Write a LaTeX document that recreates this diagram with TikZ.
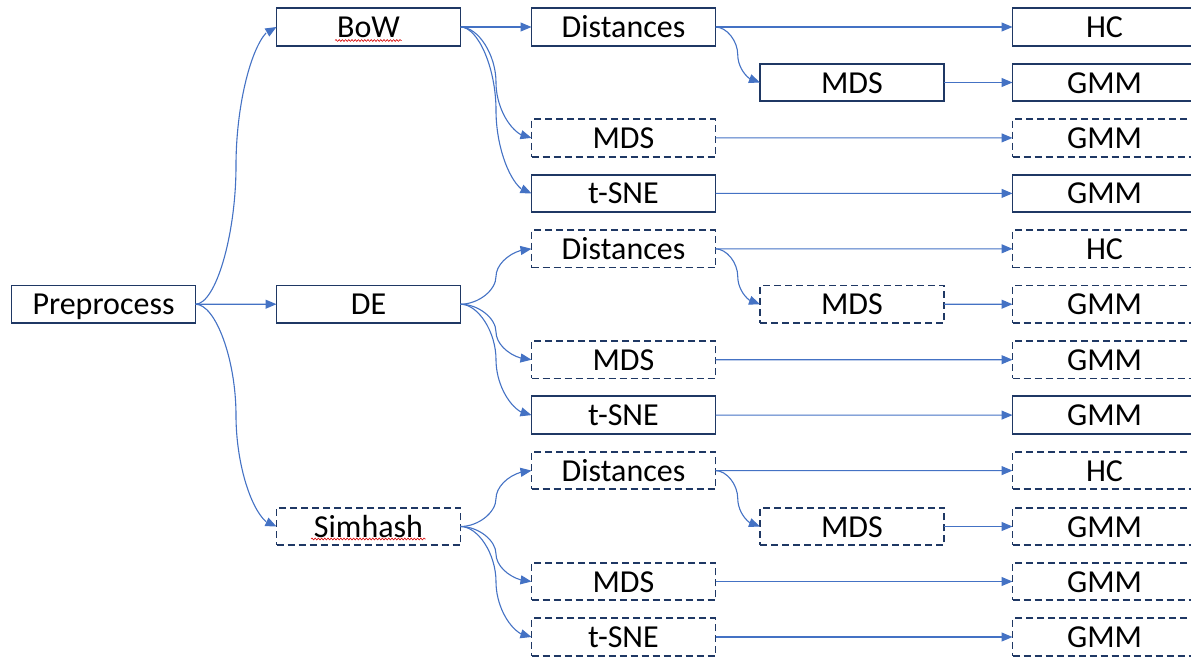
\documentclass[tikz,border=0pt]{standalone}
\usepackage{fontspec}
\setmainfont{Carlito}
\usetikzlibrary{arrows.meta,bending,calc,decorations.pathmorphing}

\definecolor{boxline}{RGB}{31,56,100}
\definecolor{linkblue}{RGB}{68,114,196}

\tikzset{
  stage/.style={draw=boxline, line width=1.8pt, fill=white,
    minimum width=184pt, minimum height=37.5pt, inner sep=0pt, outer sep=0pt,
    text height=21pt, text depth=0pt,
    font=\fontsize{32}{38}\selectfont},
  optional/.style={stage, dash pattern=on 7pt off 4pt},
  link/.style={draw=linkblue, line width=1.1pt,
    -{Triangle[length=11pt,width=9pt,flex]}},
  spellmark/.style={draw=red!85!black, line width=0.6pt,
    decorate, decoration={snake, amplitude=0.9pt, segment length=3.2pt}}
}

% S-shaped connector: horizontal out of the source, vertical at mid-span,
% horizontal into the target (straight when both ends share a row).
\newcommand\bentlink[2]{%
  \draw[link] let \p1=(#1.east), \p2=(#2.west) in
    (\p1) .. controls ({\x1+(\x2-\x1)/4},{\y1})
                 and ({(\x1+\x2)/2},{\y1+(\y2-\y1)/4}) ..
    ({(\x1+\x2)/2},{(\y1+\y2)/2}) .. controls ({(\x1+\x2)/2},{\y1+3*(\y2-\y1)/4})
                 and ({\x1+3*(\x2-\x1)/4},{\y2}) .. (\p2);}

\begin{document}
\begin{tikzpicture}[x=1pt,y=-1pt]
\useasboundingbox (0,0) rectangle (1191,656);
\clip (0,0) rectangle (1191,656);

% columns
\def\ca{103.5}\def\cb{368.5}\def\cc{623.5}\def\cd{852}\def\ce{1104.5}

% level 1 and 2
\node[stage]    (pre) at (\ca,304.2) {Preprocess};
\node[stage]    (bow) at (\cb,27)    {BoW};
\node[stage]    (de)  at (\cb,304.2) {DE};
\node[optional] (sim) at (\cb,526.5) {Simhash};

% BoW branch
\node[stage]    (bdist) at (\cc,27)    {Distances};
\node[stage]    (bmdsd) at (\cd,82.5)  {MDS};
\node[optional] (bmds)  at (\cc,137.9) {MDS};
\node[stage]    (btsne) at (\cc,193.4) {t-SNE};
\node[stage]    (bhc)   at (\ce,27)    {HC};
\node[stage]    (bg1)   at (\ce,82.5)  {GMM};
\node[optional] (bg2)   at (\ce,137.9) {GMM};
\node[stage]    (bg3)   at (\ce,193.4) {GMM};

% DE branch
\node[optional] (ddist) at (\cc,248.8) {Distances};
\node[optional] (dmdsd) at (\cd,304.2) {MDS};
\node[optional] (dmds)  at (\cc,359.7) {MDS};
\node[stage]    (dtsne) at (\cc,415.1) {t-SNE};
\node[optional] (dhc)   at (\ce,248.8) {HC};
\node[optional] (dg1)   at (\ce,304.2) {GMM};
\node[optional] (dg2)   at (\ce,359.7) {GMM};
\node[stage]    (dg3)   at (\ce,415.1) {GMM};

% Simhash branch
\node[optional] (sdist) at (\cc,470.6) {Distances};
\node[optional] (smdsd) at (\cd,526.5) {MDS};
\node[optional] (smds)  at (\cc,581.5) {MDS};
\node[optional] (stsne) at (\cc,637)   {t-SNE};
\node[optional] (shc)   at (\ce,470.6) {HC};
\node[optional] (sg1)   at (\ce,526.5) {GMM};
\node[optional] (sg2)   at (\ce,581.5) {GMM};
\node[optional] (sg3)   at (\ce,637)   {GMM};

% spell-check underlines
\draw[spellmark] ($(bow.center)+(-33.5,13.5)$) -- ($(bow.center)+(33,13.5)$);
\draw[spellmark] ($(sim.center)+(-57.5,12.5)$) -- ($(sim.center)+(57,12.5)$);

% connectors
\bentlink{pre}{bow}
\bentlink{pre}{de}
\bentlink{pre}{sim}

\bentlink{bow}{bdist}
\bentlink{bow}{bmds}
\bentlink{bow}{btsne}
\bentlink{bdist}{bmdsd}
\bentlink{bdist}{bhc}
\bentlink{bmdsd}{bg1}
\bentlink{bmds}{bg2}
\bentlink{btsne}{bg3}

\bentlink{de}{ddist}
\bentlink{de}{dmds}
\bentlink{de}{dtsne}
\bentlink{ddist}{dmdsd}
\bentlink{ddist}{dhc}
\bentlink{dmdsd}{dg1}
\bentlink{dmds}{dg2}
\bentlink{dtsne}{dg3}

\bentlink{sim}{sdist}
\bentlink{sim}{smds}
\bentlink{sim}{stsne}
\bentlink{sdist}{smdsd}
\bentlink{sdist}{shc}
\bentlink{smdsd}{sg1}
\bentlink{smds}{sg2}
\bentlink{stsne}{sg3}
\end{tikzpicture}
\end{document}
